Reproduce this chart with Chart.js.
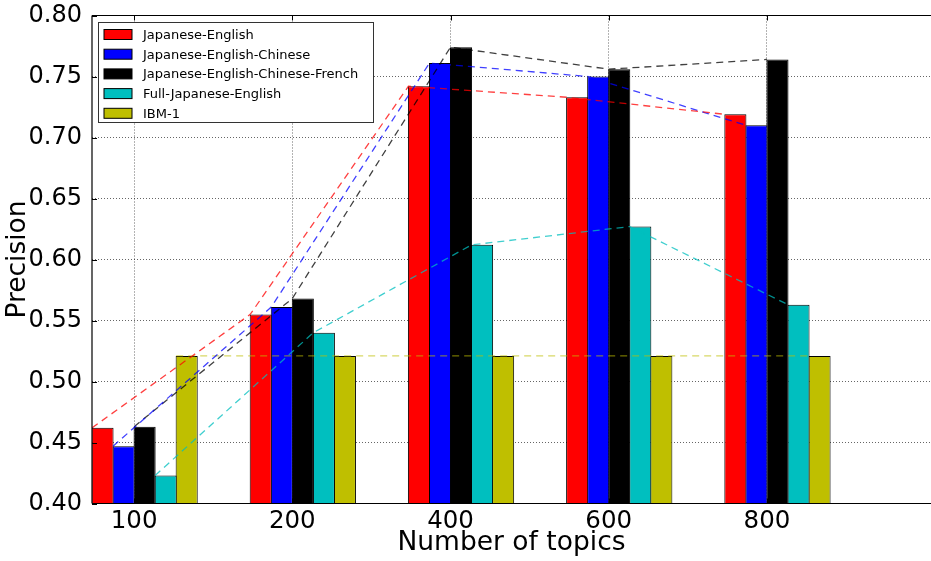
<!DOCTYPE html>
<html>
<head>
<meta charset="utf-8">
<script src="https://cdn.jsdelivr.net/npm/chart.js@4.4.1/dist/chart.umd.min.js"></script>
<style>
  html, body { margin: 0; padding: 0; background: #ffffff; }
  #wrap { width: 931px; height: 561px; position: relative; }
</style>
</head>
<body>
<div id="wrap"><canvas id="c" width="931" height="561"></canvas></div>
<script>
// ---- data ----
const categories = ['100', '200', '400', '600', '800'];
const seriesNames = ['Japanese-English', 'Japanese-English-Chinese', 'Japanese-English-Chinese-French', 'Full-Japanese-English', 'IBM-1'];
const jaEn      = [0.462, 0.555, 0.742, 0.733, 0.719];
const jaEnZh    = [0.447, 0.561, 0.761, 0.750, 0.710];
const jaEnZhFr  = [0.463, 0.568, 0.774, 0.756, 0.764];
const fullJaEn  = [0.423, 0.540, 0.612, 0.627, 0.563];
const ibm1      = [0.521, 0.521, 0.521, 0.521, 0.521];
const yTickValues = [0.40, 0.45, 0.50, 0.55, 0.60, 0.65, 0.70, 0.75, 0.80];
const xTitle = 'Number of topics';
const yTitle = 'Precision';

// ---- styles ----
const seriesValues = [jaEn, jaEnZh, jaEnZhFr, fullJaEn, ibm1];
const fillColors = ['#ff0000', '#0000ff', '#000000', '#00bfbf', '#bfbf00'];
const lineColors = ['rgba(255,0,0,0.75)', 'rgba(0,0,255,0.75)', 'rgba(0,0,0,0.75)', 'rgba(0,191,191,0.75)', 'rgba(191,191,0,0.6)'];
const BAR_W = 0.133;            // bar width in group units (layout)
const nSeries = seriesNames.length;
const FONT = "'DejaVu Sans', 'Liberation Sans', sans-serif";

// line points sit on the top-left corner of each bar (group centre at category index)
const lineDatasets = seriesValues.map((vals, k) => ({
  type: 'line',
  label: seriesNames[k] + ' trend',
  data: vals.map((v, i) => ({ x: i + (k - nSeries / 2) * BAR_W, y: v })),
  borderColor: lineColors[k],
  borderWidth: 1.3,
  borderDash: [7, 5],
  pointRadius: 0,
  pointHoverRadius: 0,
  tension: 0,
  fill: false,
  order: 0
}));

const barDatasets = seriesValues.map((vals, k) => ({
  type: 'bar',
  label: seriesNames[k],
  data: vals.map((v, i) => ({ x: i, y: v })),
  backgroundColor: fillColors[k],
  borderColor: '#000000',
  borderWidth: 1,
  borderSkipped: false,
  categoryPercentage: nSeries * BAR_W,
  barPercentage: 1.05,
  order: 1
}));

const xTickPositions = categories.map((c, i) => i + (2 - nSeries / 2) * BAR_W);

const frameAndLegend = {
  id: 'frameAndLegend',
  afterDatasetsDraw(chart) {
    const ctx = chart.ctx;
    const a = chart.chartArea;
    const xs = chart.scales.x, ys = chart.scales.y;
    ctx.save();
    // spines
    ctx.strokeStyle = '#000000';
    ctx.lineWidth = 1.2;
    ctx.beginPath();
    ctx.moveTo(a.left, a.top); ctx.lineTo(a.right, a.top);
    ctx.moveTo(a.left, a.top); ctx.lineTo(a.left, a.bottom);
    ctx.moveTo(a.left, a.bottom); ctx.lineTo(a.right, a.bottom);
    ctx.stroke();
    // inward ticks
    ctx.lineWidth = 1;
    ctx.beginPath();
    ys.ticks.forEach(t => {
      const py = Math.round(ys.getPixelForValue(t.value)) + 0.5;
      ctx.moveTo(a.left, py); ctx.lineTo(a.left + 5, py);
    });
    xs.ticks.forEach(t => {
      const px = Math.round(xs.getPixelForValue(t.value)) + 0.5;
      ctx.moveTo(px, a.bottom); ctx.lineTo(px, a.bottom - 5);
      ctx.moveTo(px, a.top); ctx.lineTo(px, a.top + 5);
    });
    ctx.stroke();

    // legend box (matplotlib style, upper left)
    const bx = a.left + 6, by = a.top + 6.5, bw = 275, bh = 100;
    ctx.fillStyle = '#ffffff';
    ctx.fillRect(bx, by, bw, bh);
    ctx.strokeStyle = '#333333';
    ctx.lineWidth = 1;
    ctx.strokeRect(Math.round(bx) + 0.5, Math.round(by) + 0.5, bw, bh);
    ctx.font = '13px ' + FONT;
    ctx.textBaseline = 'middle';
    ctx.textAlign = 'left';
    seriesNames.forEach((name, k) => {
      const cy = by + 12.5 + k * 19.7;
      ctx.fillStyle = fillColors[k];
      ctx.fillRect(bx + 6, cy - 5, 28, 10);
      ctx.strokeStyle = '#000000';
      ctx.strokeRect(bx + 6, cy - 5, 28, 10);
      ctx.fillStyle = '#000000';
      ctx.fillText(name, bx + 45, cy + 1);
    });
    ctx.restore();
  }
};

new Chart(document.getElementById('c'), {
  type: 'bar',
  data: { datasets: [...lineDatasets, ...barDatasets] },
  options: {
    responsive: false,
    animation: false,
    devicePixelRatio: 1,
    layout: { padding: { top: 15.5, right: 0, bottom: 0, left: 0 } },
    plugins: {
      legend: { display: false },
      tooltip: { enabled: false }
    },
    scales: {
      x: {
        type: 'linear',
        position: 'bottom',
        offset: false,
        min: -(nSeries / 2) * BAR_W,
        max: 5.303 - (nSeries / 2) * BAR_W,
        afterBuildTicks: (scale) => { scale.ticks = xTickPositions.map(v => ({ value: v })); },
        afterFit: (scale) => { scale.height = 57.5; scale.paddingLeft = 0; scale.paddingRight = 0; },
        ticks: {
          autoSkip: false,
          maxRotation: 0,
          padding: 3,
          color: '#000000',
          font: { family: FONT, size: 24.5 },
          callback: (value, index) => categories[index]
        },
        grid: { color: 'rgba(0,0,0,0.6)', lineWidth: 1, drawTicks: false, offset: false },
        border: { display: false, dash: [1, 2] },
        title: {
          display: true, text: xTitle, color: '#000000',
          font: { family: FONT, size: 26.5 },
          padding: { top: 0, bottom: 1.5 }
        }
      },
      y: {
        type: 'linear',
        min: 0.40,
        max: 0.80,
        afterBuildTicks: (scale) => { scale.ticks = yTickValues.map(v => ({ value: v })); },
        afterFit: (scale) => { scale.width = 92; scale.paddingTop = 0; scale.paddingBottom = 0; },
        ticks: {
          padding: 10,
          color: '#000000',
          font: { family: FONT, size: 24 },
          callback: (value) => Number(value).toFixed(2)
        },
        grid: { color: 'rgba(0,0,0,0.6)', lineWidth: 1, drawTicks: false },
        border: { display: false, dash: [1, 2] },
        title: {
          display: true, text: yTitle, color: '#000000',
          font: { family: FONT, size: 26.5 },
          padding: { top: 2, bottom: 0 }
        }
      }
    }
  },
  plugins: [frameAndLegend]
});
</script>
</body>
</html>
